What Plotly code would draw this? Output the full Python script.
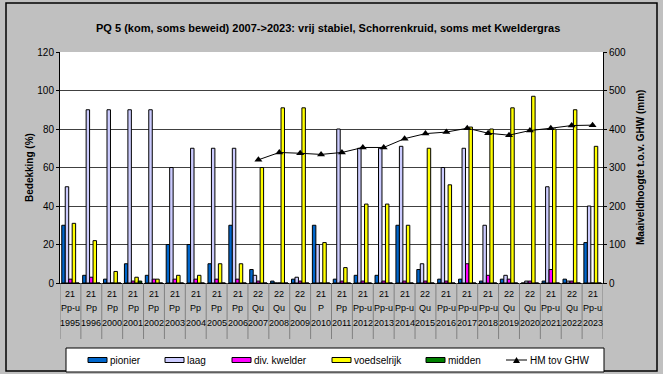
import plotly.graph_objects as go

# --- data -------------------------------------------------------------------
years = ["1995", "1996", "2000", "2001", "2002", "2003", "2004", "2005", "2006",
         "2007", "2008", "2009", "2010", "2011", "2012", "2013", "2014", "2015",
         "2016", "2017", "2018", "2019", "2020", "2021", "2022", "2023"]
zone_code = ["21", "21", "21", "21", "21", "21", "21", "21", "21",
             "22", "22", "22", "21", "21", "21", "21", "21", "22",
             "21", "21", "21", "22", "22", "21", "22", "21"]
veg_type = ["Pp-u", "Pp", "Pp", "Pp", "Pp", "Pp", "Pp", "Pp", "Pp",
            "Qu", "Qu", "Qu", "P", "Pp", "Pp-u", "Pp-u", "Pp-u", "Qu",
            "Pp-u", "Pp-u", "Pp-u", "Qu", "Qu", "Pp-u", "Qu", "Pp-u"]

pionier = [30, 4, 2, 10, 4, 20, 20, 10, 30, 7, 1, 2, 30, 2, 4, 4, 30, 7,
           2, 2, 1, 2, 0, 1, 2, 21]
laag = [50, 90, 90, 90, 90, 60, 70, 70, 70, 4, 0, 3, 20, 80, 70, 70, 71, 10,
        60, 70, 30, 4, 1, 50, 1, 40]
div_kwelder = [2, 3, 0, 1, 2, 2, 2, 2, 2, 1, 0, 1, 0, 1, 1, 1, 1, 1,
               1, 10, 4, 2, 1, 7, 1, 0]
voedselrijk = [31, 22, 6, 3, 2, 4, 4, 10, 10, 60, 91, 91, 21, 8, 41, 41, 30, 70,
               51, 81, 80, 91, 97, 80, 90, 71]
midden = [0, 0, 0, 1, 0, 0, 0, 0, 0, 0, 0, 0, 0, 0, 0, 0, 0, 0,
          0, 0, 0, 0, 0, 0, 0, 0]
hm_tov_ghw = [None] * 9 + [320, 339, 337, 334, 339, 352, 352, 375, 388,
                           392, 402, 389, 384, 396, 402, 409, 410]

# --- styling ----------------------------------------------------------------
W, H = 663, 374
PL, PR, PT, PB = 60, 603, 52, 283          # plot area in pixels
FONT = "Liberation Sans, Arial, sans-serif"


def px_x(p):
    return (p - PL) / (PR - PL)


def px_y(p):
    return (PB - p) / (PB - PT)


series = [
    ("pionier", pionier, "#0066CC"),
    ("laag", laag, "#CCCCFF"),
    ("div. kwelder", div_kwelder, "#FF00FF"),
    ("voedselrijk", voedselrijk, "#FFFF00"),
    ("midden", midden, "#008000"),
]

fig = go.Figure()
for name, vals, col in series:
    fig.add_trace(go.Bar(
        x=years, y=vals, name=name,
        marker=dict(color=col, line=dict(color="#000000", width=1)),
        showlegend=False,
    ))

fig.add_trace(go.Scatter(
    x=years, y=hm_tov_ghw, name="HM tov GHW", yaxis="y2",
    mode="lines+markers",
    line=dict(color="#000000", width=1),
    marker=dict(symbol="triangle-up", size=7, color="#000000"),
    connectgaps=False, showlegend=False,
))

shapes = []
annotations = []

# outer chart frame
shapes.append(dict(type="rect", xref="paper", yref="paper",
                   x0=px_x(6), x1=px_x(657), y0=px_y(371), y1=px_y(3),
                   line=dict(color="#000000", width=1.5), layer="below"))

# category table: separators and three label rows
for i in range(len(years) + 1):
    shapes.append(dict(type="line", xref="x", yref="paper",
                       x0=i - 0.5, x1=i - 0.5, y0=0, y1=px_y(339),
                       line=dict(color="#808080", width=1)))
for i, yr in enumerate(years):
    for text, shift in ((zone_code[i], -11), (veg_type[i], -25), (yr, -40)):
        annotations.append(dict(x=i, y=0, xref="x", yref="paper", text=text,
                                showarrow=False, yanchor="middle", yshift=shift,
                                font=dict(size=9, color="#000000", family=FONT)))

# axis titles
annotations.append(dict(x=px_x(22), y=0.5, xref="paper", yref="paper",
                        text="<b>Bedekking (%)</b>", textangle=-90, showarrow=False,
                        font=dict(size=10, color="#000000", family=FONT)))
annotations.append(dict(x=px_x(648), y=0.5, xref="paper", yref="paper",
                        text="<b>Maaiveldhoogte t.o.v. GHW (mm)</b>", textangle=-90,
                        showarrow=False,
                        font=dict(size=10, color="#000000", family=FONT)))

# legend box
leg_top, leg_bot = 348, 372
leg_mid = (leg_top + leg_bot) / 2
shapes.append(dict(type="rect", xref="paper", yref="paper",
                   x0=px_x(66), x1=px_x(604), y0=px_y(leg_bot), y1=px_y(leg_top),
                   fillcolor="#FFFFFF", line=dict(color="#000000", width=1)))
legend_x = [88, 165, 232, 332, 426]
for (name, _, col), lx in zip(series, legend_x):
    shapes.append(dict(type="rect", xref="paper", yref="paper",
                       x0=px_x(lx), x1=px_x(lx + 19),
                       y0=px_y(leg_mid + 2.5), y1=px_y(leg_mid - 2.5),
                       fillcolor=col, line=dict(color="#000000", width=1)))
    annotations.append(dict(x=px_x(lx + 20), y=px_y(leg_mid), xref="paper",
                            yref="paper", text=name, showarrow=False,
                            xanchor="left", yanchor="middle",
                            font=dict(size=10, color="#000000", family=FONT)))
shapes.append(dict(type="line", xref="paper", yref="paper",
                   x0=px_x(506), x1=px_x(527), y0=px_y(leg_mid), y1=px_y(leg_mid),
                   line=dict(color="#000000", width=1)))
shapes.append(dict(type="path", xref="paper", yref="paper",
                   path="M {} {} L {} {} L {} {} Z".format(
                       px_x(513), px_y(leg_mid + 3), px_x(520), px_y(leg_mid + 3),
                       px_x(516.5), px_y(leg_mid - 3)),
                   fillcolor="#000000", line=dict(color="#000000", width=0)))
annotations.append(dict(x=px_x(528), y=px_y(leg_mid), xref="paper", yref="paper",
                        text="HM tov GHW", showarrow=False,
                        xanchor="left", yanchor="middle",
                        font=dict(size=10, color="#000000", family=FONT)))

fig.update_layout(
    width=W, height=H,
    margin=dict(l=PL, r=W - PR, t=PT, b=H - PB, pad=0),
    paper_bgcolor="#C0C0C0",
    plot_bgcolor="#FFFFFF",
    font=dict(family=FONT, size=10, color="#000000"),
    barmode="group", bargap=0.17, bargroupgap=0,
    title=dict(text="<b>PQ 5 (kom, soms beweid) 2007->2023: vrij stabiel, Schorrenkruid, soms met Kweldergras</b>",
               x=0.495, xanchor="center", y=1 - 28 / H, yanchor="middle",
               font=dict(size=11, color="#000000", family=FONT)),
    xaxis=dict(type="category", range=[-0.5, len(years) - 0.5],
               showticklabels=False, ticks="", showgrid=False,
               showline=True, linecolor="#000000", linewidth=1, mirror=False),
    yaxis=dict(range=[0, 120], dtick=20, tickmode="linear",
               showgrid=True, gridcolor="#404040", gridwidth=1,
               ticks="outside", ticklen=3, tickcolor="#000000",
               showline=True, linecolor="#000000", linewidth=1,
               zeroline=False, tickfont=dict(size=10)),
    yaxis2=dict(range=[0, 600], dtick=100, tickmode="linear",
                overlaying="y", side="right", showgrid=False,
                ticks="outside", ticklen=3, tickcolor="#000000",
                showline=True, linecolor="#000000", linewidth=1,
                zeroline=False, tickfont=dict(size=10)),
    shapes=shapes,
    annotations=annotations,
)

fig.write_html("out.html")
